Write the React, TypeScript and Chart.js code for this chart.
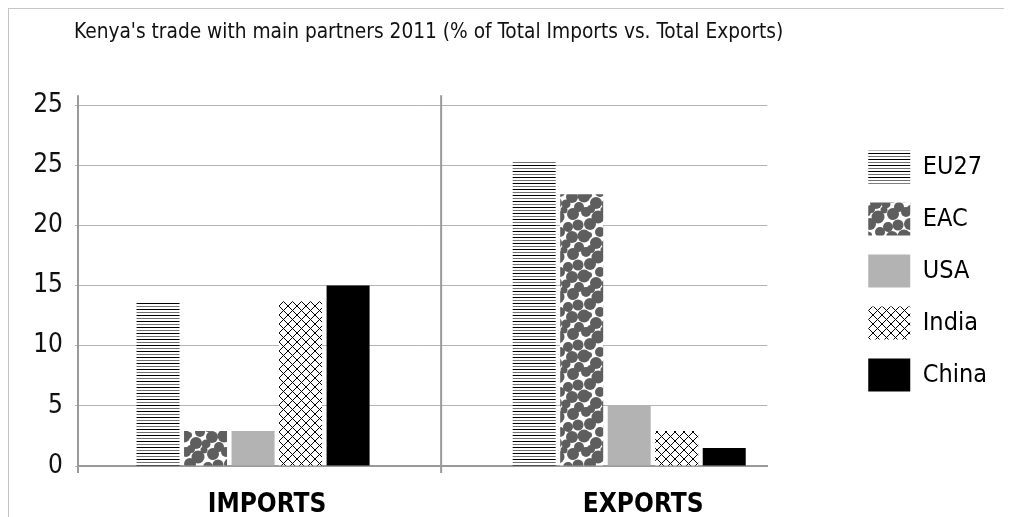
import React, { useEffect, useRef } from 'react';
import { Chart, registerables } from 'chart.js';

Chart.register(...registerables);

const TITLE = "Kenya's trade with main partners 2011 (% of Total Imports vs. Total Exports)";
const categories = ['IMPORTS', 'EXPORTS'];
const seriesNames = ['EU27', 'EAC', 'USA', 'India', 'China'];
const eu27 = [13.6, 25.3];
const eac = [2.9, 22.6];
const usa = [2.9, 5.0];
const india = [13.7, 2.9];
const china = [15.0, 1.5];
const yTickLabels = ['0', '5', '10', '15', '20', '25', '25'];

const NARROW = '"Liberation Sans Narrow", "DejaVu Sans Condensed", "Arial Narrow", sans-serif';
const AXIS_COLOR = '#9a9a9a';
const GRID_COLOR = '#b4b4b4';
const TITLE_INSET = 65;

// fixed texture for the dotted EAC fill (pattern tile, not data)
const DOT_TILE = 40;
const eacDots: [number, number, number][] = [
  [4, 5, 6], [17, 3, 5], [29, 8, 6.5], [39, 18, 5], [9, 16, 5.5], [21, 15, 6],
  [31, 23, 5], [3, 28, 6], [15, 27, 6.5], [27, 34, 6], [37, 35, 4.5], [10, 38, 5],
  [22, 40, 4], [35, 1, 3.5], [20, 26, 3],
];

function linesPattern(ctx: CanvasRenderingContext2D) {
  const c = document.createElement('canvas');
  c.width = 4; c.height = 6;
  const g = c.getContext('2d')!;
  g.fillStyle = '#fff'; g.fillRect(0, 0, 4, 6);
  g.fillStyle = '#000'; g.fillRect(0, 0, 4, 1);
  g.fillStyle = '#707070'; g.fillRect(0, 3, 4, 1);
  return ctx.createPattern(c, 'repeat')!;
}

function dotsPattern(ctx: CanvasRenderingContext2D) {
  const c = document.createElement('canvas');
  c.width = DOT_TILE; c.height = DOT_TILE;
  const g = c.getContext('2d')!;
  g.fillStyle = '#fff'; g.fillRect(0, 0, DOT_TILE, DOT_TILE);
  g.fillStyle = '#5e5e5e';
  for (const [x, y, r] of eacDots) {
    for (const dx of [-DOT_TILE, 0, DOT_TILE]) {
      for (const dy of [-DOT_TILE, 0, DOT_TILE]) {
        g.beginPath();
        g.arc(x + dx, y + dy, r, 0, Math.PI * 2);
        g.fill();
      }
    }
  }
  return ctx.createPattern(c, 'repeat')!;
}

function hatchPattern(ctx: CanvasRenderingContext2D) {
  const s = 9;
  const c = document.createElement('canvas');
  c.width = s; c.height = s;
  const g = c.getContext('2d')!;
  g.fillStyle = '#fff'; g.fillRect(0, 0, s, s);
  g.strokeStyle = '#000'; g.lineWidth = 1;
  g.beginPath();
  g.moveTo(0, 0); g.lineTo(s, s);
  g.moveTo(s, 0); g.lineTo(0, s);
  g.stroke();
  return ctx.createPattern(c, 'repeat')!;
}

const axisExtras = {
  id: 'axisExtras',
  afterLayout(chart: any) {
    const t = chart.titleBlock;
    if (t) { t.left += TITLE_INSET; t.right += TITLE_INSET; }
  },
  beforeDatasetsDraw(chart: any) {
    const { ctx, chartArea, scales } = chart;
    const xs = scales.x;
    const mid = xs.getPixelForValue((categories.length - 1) / 2);
    ctx.save();
    ctx.strokeStyle = AXIS_COLOR;
    ctx.lineWidth = 2;
    ctx.beginPath();
    ctx.moveTo(mid, chartArea.top - 10);
    ctx.lineTo(mid, chartArea.bottom + 7);
    ctx.moveTo(chartArea.left, chartArea.top - 10);
    ctx.lineTo(chartArea.left, chartArea.bottom + 7);
    ctx.stroke();
    ctx.restore();
  },
};

export default function App() {
  const ref = useRef<HTMLCanvasElement>(null);

  useEffect(() => {
    document.documentElement.style.overflow = 'hidden';
    document.body.style.overflow = 'hidden';
    const canvas = ref.current!;
    const ctx = canvas.getContext('2d')!;
    const fills = [linesPattern(ctx), dotsPattern(ctx), '#b3b3b3', hatchPattern(ctx), '#000000'];
    const series = [eu27, eac, usa, india, china];

    const chart = new Chart(canvas, {
      type: 'bar',
      data: {
        datasets: series.map((vals, si) => ({
          label: seriesNames[si],
          data: vals.map((v, i) => ({ x: i, y: v })),
          backgroundColor: fills[si] as any,
          borderColor: 'rgba(0,0,0,0)',
          borderWidth: 0,
          categoryPercentage: 0.6316,
          barPercentage: 0.905,
        })),
      },
      options: {
        responsive: false,
        animation: false,
        devicePixelRatio: 1,
        layout: { padding: { left: 0, right: 7, top: 12, bottom: 0 } },
        plugins: {
          title: {
            display: true,
            text: TITLE,
            align: 'start',
            color: '#111',
            font: { family: NARROW, size: 20.7, weight: 'normal' as any, lineHeight: 1 },
            padding: { top: 1, bottom: 62.5 },
          },
          legend: {
            position: 'right',
            labels: {
              boxWidth: 42,
              boxHeight: 33,
              padding: 19,
              color: '#000',
              font: { family: NARROW, size: 25 },
            },
          },
          tooltip: { enabled: false },
        },
        scales: {
          x: {
            type: 'linear',
            offset: false,
            min: -0.4654,
            max: 1.367,
            grid: { display: false, drawTicks: false },
            border: { display: true, color: AXIS_COLOR, width: 2 },
            afterBuildTicks: (s: any) => {
              s.ticks = categories.map((_, i) => ({ value: i }));
            },
            afterFit: (s: any) => { s.height = 55; },
            ticks: {
              autoSkip: false,
              maxRotation: 0,
              padding: 24,
              labelOffset: 14,
              color: '#000',
              font: { family: NARROW, size: 26, weight: 'bold' as any },
              callback: (_v: any, i: number) => categories[i],
            },
          },
          y: {
            min: 0,
            max: 30,
            afterFit: (s: any) => { s.width = 69; },
            grid: { color: GRID_COLOR, lineWidth: 1, tickLength: 3 },
            border: { display: true, color: AXIS_COLOR, width: 2 },
            ticks: {
              stepSize: 5,
              padding: 12,
              color: '#111',
              font: { family: NARROW, size: 26 },
              callback: (_v: any, i: number) => yTickLabels[i],
            },
          },
          pad: {
            type: 'linear',
            position: 'right',
            display: true,
            grid: { display: false },
            border: { display: false },
            ticks: { display: false },
            afterFit: (s: any) => { s.width = 82; },
          },
        },
      },
      plugins: [axisExtras],
    });
    return () => chart.destroy();
  }, []);

  return (
    <div style={{ borderTop: '1px solid #c4c4c4', borderLeft: '1px solid #c4c4c4' }}>
      <canvas ref={ref} width={995} height={512} style={{ display: 'block' }} />
    </div>
  );
}
